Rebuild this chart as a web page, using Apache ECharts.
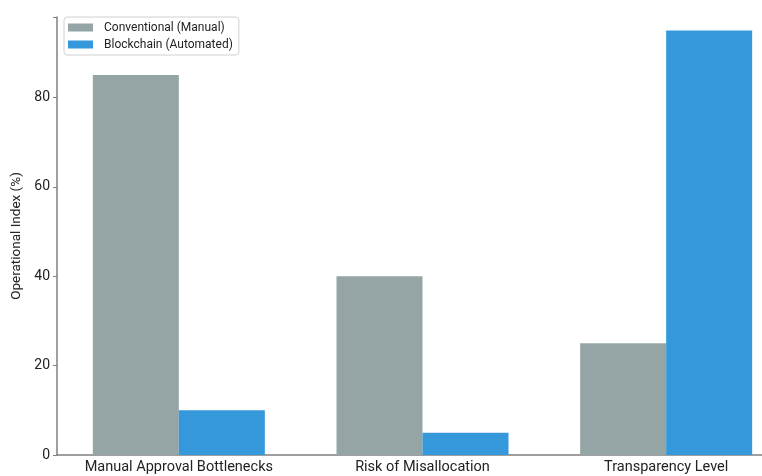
<!DOCTYPE html>
<html>
<head>
<meta charset="utf-8">
<script src="https://cdn.jsdelivr.net/npm/echarts@6/dist/echarts.min.js"></script>
<style>
  html, body { margin: 0; padding: 0; background: #fff; overflow: hidden; }
  #chart { width: 800px; height: 476px; }
</style>
</head>
<body>
<div id="chart"></div>
<script>
var categories = ['Manual Approval Bottlenecks', 'Risk of Misallocation', 'Transparency Level'];
var conventional = [85, 40, 25];
var blockchain = [10, 5, 95];
var seriesNames = ['Conventional (Manual)', 'Blockchain (Automated)'];
var yTicks = [0, 20, 40, 60, 80];

var chart = echarts.init(document.getElementById('chart'));

var axisColor = '#808080';
var textColor = '#222';
var font = 'Roboto, "DejaVu Sans", sans-serif';

var option = {
    animation: false,
    textStyle: { fontFamily: font },
    grid: {
        left: 57,
        top: 17,
        width: 731,
        bottom: 21
    },
    legend: {
        data: seriesNames,
        orient: 'vertical',
        left: 64,
        top: 17,
        padding: [4, 6, 4, 4],
        itemWidth: 25,
        itemHeight: 8,
        itemGap: 4,
        icon: 'rect',
        borderColor: '#d0d0d0',
        borderWidth: 1,
        borderRadius: 3,
        backgroundColor: 'rgba(255,255,255,0.8)',
        textStyle: { fontSize: 12, color: textColor, lineHeight: 13, padding: [0, 0, 0, 6], fontFamily: font }
    },
    xAxis: {
        type: 'category',
        data: categories,
        axisLine: { lineStyle: { color: axisColor, width: 1.5 } },
        axisTick: { alignWithLabel: true, length: 4, lineStyle: { color: axisColor } },
        axisLabel: { fontSize: 14.5, color: textColor, margin: 5, interval: 0 },
        splitLine: { show: false }
    },
    yAxis: {
        type: 'value',
        min: 0,
        max: 98,
        interval: 20,
        name: 'Operational Index (%)',
        nameLocation: 'middle',
        nameGap: 33,
        nameTextStyle: { fontSize: 13.5, color: textColor },
        axisLine: { show: true, lineStyle: { color: axisColor, width: 1.5 } },
        axisTick: { show: true, length: 4, lineStyle: { color: axisColor } },
        axisLabel: {
            fontSize: 14, color: textColor, margin: 7,
            formatter: function (v) { return yTicks.indexOf(v) >= 0 ? String(v) : ''; }
        },
        splitLine: { show: false }
    },
    series: [
        {
            name: seriesNames[0],
            type: 'bar',
            data: conventional,
            barWidth: 86,
            barGap: '0%',
            itemStyle: { color: '#95A5A6' }
        },
        {
            name: seriesNames[1],
            type: 'bar',
            data: blockchain,
            barWidth: 86,
            barGap: '0%',
            itemStyle: { color: '#3498DB' }
        }
    ]
};

chart.setOption(option);
</script>
</body>
</html>
